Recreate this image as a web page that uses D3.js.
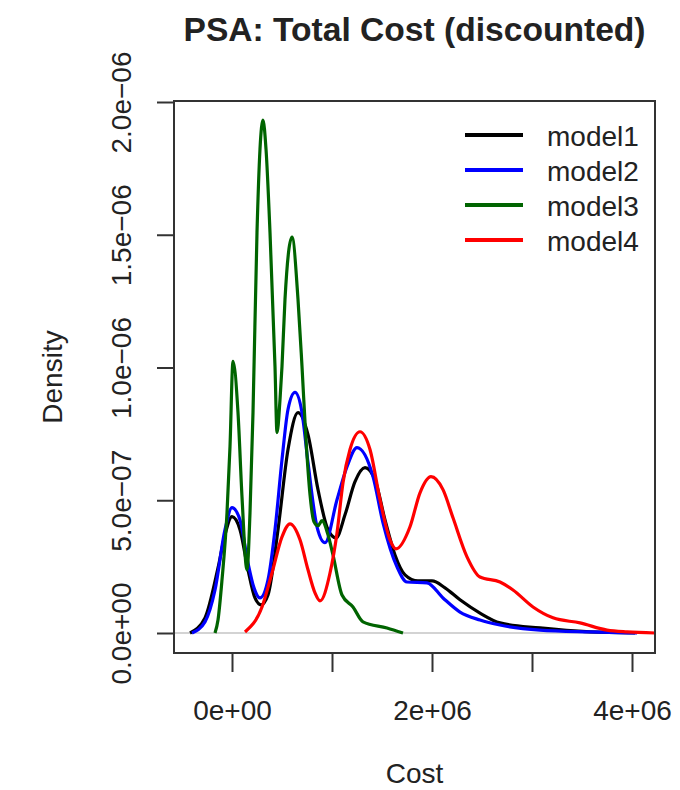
<!DOCTYPE html>
<html>
<head>
<meta charset="utf-8">
<script src="https://cdn.jsdelivr.net/npm/d3@7"></script>
<style>
  body { margin: 0; background: #fff; }
  text { font-family: 'Liberation Sans', Arial, sans-serif; fill: #222; }
</style>
</head>
<body>
<script>
/* global d3 */
'use strict'

// Series: cost (x) and density (y) for each model
var modelNames = ['model1', 'model2', 'model3', 'model4']
var modelColors = ['#000000', '#0000ff', '#006400', '#ff0000']

var model1Cost = [-0.42e6, -0.27e6, -0.14e6, -0.07e6, 0, 0.08e6, 0.16e6, 0.23e6,
  0.29e6, 0.36e6, 0.46e6, 0.56e6, 0.66e6, 0.76e6, 0.86e6, 0.96e6, 1.04e6,
  1.13e6, 1.23e6, 1.33e6, 1.43e6, 1.53e6, 1.63e6, 1.73e6, 1.86e6, 2.0e6,
  2.13e6, 2.28e6, 2.48e6, 2.68e6, 3.08e6, 3.58e6, 4.03e6]
var model1Density = [0, 0.57e-7, 2.45e-7, 3.70e-7, 4.38e-7, 3.89e-7, 2.38e-7,
  1.32e-7, 1.06e-7, 1.43e-7, 3.89e-7, 6.91e-7, 8.30e-7, 7.47e-7, 5.40e-7,
  3.89e-7, 3.58e-7, 4.45e-7, 5.70e-7, 6.23e-7, 5.77e-7, 4.26e-7, 2.94e-7,
  2.19e-7, 1.96e-7, 1.96e-7, 1.70e-7, 1.25e-7, 0.75e-7, 0.38e-7, 0.19e-7,
  0.04e-7, 0]

var model2Cost = [-0.40e6, -0.27e6, -0.17e6, -0.07e6, 0, 0.08e6, 0.16e6, 0.22e6,
  0.28e6, 0.36e6, 0.43e6, 0.50e6, 0.56e6, 0.63e6, 0.70e6, 0.76e6, 0.85e6,
  0.93e6, 1.05e6, 1.15e6, 1.25e6, 1.41e6, 1.51e6, 1.65e6, 1.75e6, 1.95e6,
  2.11e6, 2.28e6, 2.48e6, 2.68e6, 3.08e6, 3.58e6, 4.05e6]
var model2Density = [0, 0.42e-7, 1.62e-7, 3.89e-7, 4.72e-7, 4.26e-7, 2.64e-7,
  1.70e-7, 1.32e-7, 2.00e-7, 3.89e-7, 6.53e-7, 8.42e-7, 9.06e-7, 8.30e-7,
  6.42e-7, 4.00e-7, 3.40e-7, 5.02e-7, 6.26e-7, 6.98e-7, 5.89e-7, 4.15e-7,
  2.49e-7, 1.92e-7, 1.89e-7, 1.32e-7, 0.79e-7, 0.49e-7, 0.30e-7, 0.11e-7,
  0.04e-7, 0]

var model3Cost = [-0.17e6, -0.14e6, -0.10e6, -0.05e6, -0.02e6, 0.01e6, 0.06e6,
  0.10e6, 0.15e6, 0.18e6, 0.21e6, 0.25e6, 0.28e6, 0.31e6, 0.34e6, 0.38e6,
  0.43e6, 0.45e6, 0.48e6, 0.50e6, 0.53e6, 0.60e6, 0.66e6, 0.70e6, 0.74e6,
  0.78e6, 0.82e6, 0.86e6, 0.90e6, 0.96e6, 1.01e6, 1.10e6, 1.21e6, 1.31e6,
  1.55e6, 1.71e6]
var model3Density = [0, 0.49e-7, 2.00e-7, 4.53e-7, 7.02e-7, 10.23e-7, 8.30e-7,
  5.13e-7, 2.38e-7, 4.53e-7, 8.30e-7, 15.09e-7, 18.23e-7, 19.32e-7, 18.23e-7,
  15.09e-7, 10.04e-7, 7.55e-7, 8.79e-7, 10.04e-7, 12.57e-7, 14.91e-7,
  12.57e-7, 10.04e-7, 7.28e-7, 5.21e-7, 4.19e-7, 4.04e-7, 4.23e-7, 3.70e-7,
  2.94e-7, 1.43e-7, 0.98e-7, 0.42e-7, 0.19e-7, 0]

var model4Cost = [0.13e6, 0.30e6, 0.40e6, 0.50e6, 0.58e6, 0.68e6, 0.76e6,
  0.83e6, 0.88e6, 0.98e6, 1.05e6, 1.11e6, 1.18e6, 1.28e6, 1.38e6, 1.48e6,
  1.58e6, 1.64e6, 1.78e6, 1.88e6, 1.99e6, 2.11e6, 2.21e6, 2.35e6, 2.48e6,
  2.68e6, 2.81e6, 3.01e6, 3.21e6, 3.48e6, 3.75e6, 3.95e6, 4.23e6]
var model4Density = [0.04e-7, 0.98e-7, 2.26e-7, 3.62e-7, 4.11e-7, 3.51e-7,
  2.38e-7, 1.51e-7, 1.21e-7, 2.26e-7, 3.77e-7, 5.66e-7, 6.91e-7, 7.58e-7,
  6.91e-7, 5.02e-7, 3.51e-7, 3.17e-7, 4.00e-7, 5.28e-7, 5.89e-7, 5.40e-7,
  4.34e-7, 2.87e-7, 2.11e-7, 1.92e-7, 1.62e-7, 0.98e-7, 0.57e-7, 0.38e-7,
  0.11e-7, 0.04e-7, 0]

var xTicks = [0, 1e6, 2e6, 3e6, 4e6]
var xTickLabels = ['0e+00', '', '2e+06', '', '4e+06']
var yTicks = [0, 5e-7, 1e-6, 1.5e-6, 2e-6]
var yTickLabels = ['0.0e+00', '5.0e\u221207', '1.0e\u221206', '1.5e\u221206', '2.0e\u221206']

var titleText = 'PSA: Total Cost (discounted)'
var xLabel = 'Cost'
var yLabel = 'Density'

;(function () {
  var dim = { w: 680, h: 790 }
  var box = { left: 174, right: 655, top: 101, bottom: 653 }

  var x = d3.scaleLinear().domain([0, 4e6]).range([232, 632])
  var y = d3.scaleLinear().domain([0, 2e-6]).range([633, 102])

  var series = [
    { cost: model1Cost, density: model1Density },
    { cost: model2Cost, density: model2Density },
    { cost: model3Cost, density: model3Density },
    { cost: model4Cost, density: model4Density }
  ].map(function (s, i) {
    return {
      name: modelNames[i],
      color: modelColors[i],
      points: s.cost.map(function (c, j) { return { x: c, y: s.density[j] } })
    }
  })

  var svg = d3.select('body').append('svg')
    .attr('width', dim.w)
    .attr('height', dim.h)

  svg.append('rect').attr('width', dim.w).attr('height', dim.h).attr('fill', '#fff')

  svg.append('clipPath').attr('id', 'plot-clip')
    .append('rect')
    .attr('x', box.left).attr('y', box.top)
    .attr('width', box.right - box.left).attr('height', box.bottom - box.top)

  var chart = svg.append('g').attr('clip-path', 'url(#plot-clip)')

  // zero line of the density plot
  chart.append('line')
    .attr('x1', box.left).attr('x2', box.right)
    .attr('y1', y(0)).attr('y2', y(0))
    .attr('stroke', '#c4c4c4').attr('stroke-width', 1.5)

  var line = d3.line()
    .x(function (d) { return x(d.x) })
    .y(function (d) { return y(d.y) })
    .curve(d3.curveMonotoneX)

  chart.selectAll('.curve').data(series)
    .enter().append('path')
      .attr('class', 'curve')
      .attr('d', function (d) { return line(d.points) })
      .attr('fill', 'none')
      .attr('stroke', function (d) { return d.color })
      .attr('stroke-width', 3.2)
      .attr('stroke-linejoin', 'round')

  // box
  svg.append('rect')
    .attr('x', box.left).attr('y', box.top)
    .attr('width', box.right - box.left).attr('height', box.bottom - box.top)
    .attr('fill', 'none').attr('stroke', '#333').attr('stroke-width', 2)

  var xAxis = d3.axisBottom(x).tickValues(xTicks).tickSize(19)
    .tickFormat(function (d, i) { return xTickLabels[i] })
  var yAxis = d3.axisLeft(y).tickValues(yTicks).tickSize(17)
    .tickFormat(function (d, i) { return yTickLabels[i] })

  var gx = svg.append('g')
    .attr('transform', 'translate(0,' + box.bottom + ')')
    .call(xAxis)
  var gy = svg.append('g')
    .attr('transform', 'translate(' + box.left + ',0)')
    .call(yAxis)

  ;[gx, gy].forEach(function (g) {
    g.select('.domain').remove()
    g.selectAll('.tick line').attr('stroke', '#333').attr('stroke-width', 2)
    g.selectAll('.tick text')
      .attr('fill', '#222')
      .style('font-size', '28px')
      .style('font-family', "'Liberation Sans', Arial, sans-serif")
  })

  gx.selectAll('.tick text').attr('y', 67).attr('dy', 0)
  gy.selectAll('.tick text')
    .attr('transform', 'rotate(-90)')
    .attr('x', 0).attr('y', -43).attr('dy', 0)
    .attr('text-anchor', 'middle')

  svg.append('text')
    .attr('x', (box.left + box.right) / 2).attr('y', 41)
    .attr('text-anchor', 'middle')
    .style('font-size', '33.6px').style('font-weight', 'bold')
    .attr('fill', '#111')
    .text(titleText)

  svg.append('text')
    .attr('x', (box.left + box.right) / 2).attr('y', 783)
    .attr('text-anchor', 'middle')
    .style('font-size', '28px')
    .text(xLabel)

  svg.append('text')
    .attr('transform', 'translate(62,' + (box.top + box.bottom) / 2 + ') rotate(-90)')
    .attr('text-anchor', 'middle')
    .style('font-size', '28px')
    .text(yLabel)

  // legend (no frame)
  var legend = svg.append('g').selectAll('g').data(series)
    .enter().append('g')
      .attr('transform', function (d, i) { return 'translate(465,' + (135 + 35 * i) + ')' })

  legend.append('line')
    .attr('x1', 0).attr('x2', 58)
    .attr('stroke', function (d) { return d.color })
    .attr('stroke-width', 4)

  legend.append('text')
    .attr('x', 82).attr('y', 11)
    .style('font-size', '28px')
    .text(function (d) { return d.name })
}())
</script>
</body>
</html>
